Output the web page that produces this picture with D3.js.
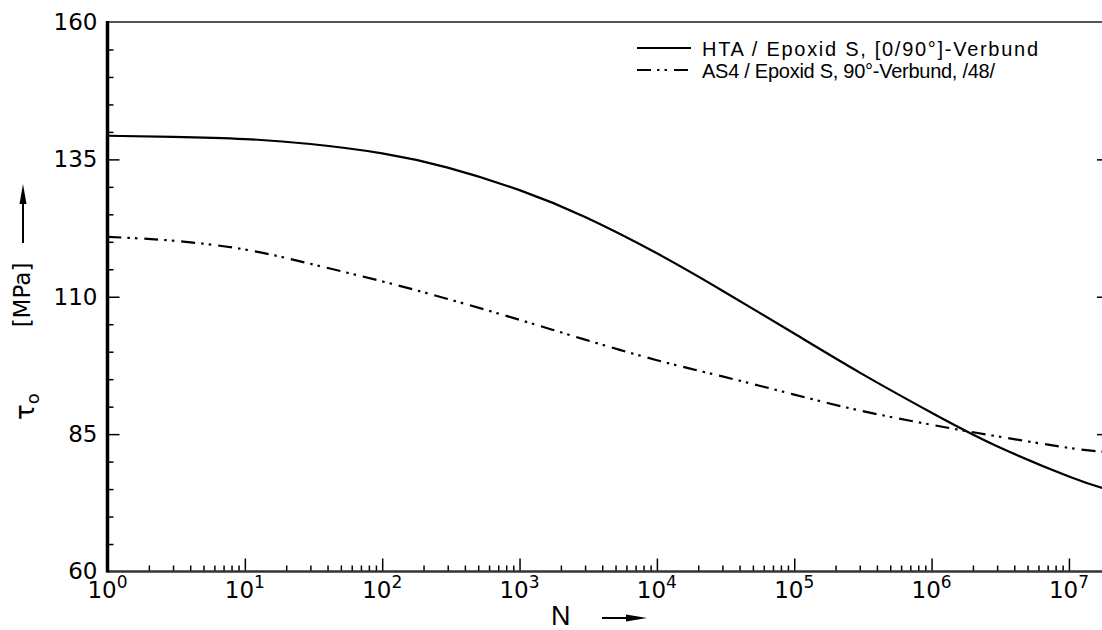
<!DOCTYPE html>
<html><head><meta charset="utf-8">
<script src="https://cdn.jsdelivr.net/npm/d3@7"></script>
<style>body{margin:0;background:#fff}svg{display:block}</style>
</head><body><svg id="c" width="1102" height="630"></svg>
<script>
const seriesNames = ["HTA / Epoxid S, [0/90°]-Verbund", "AS4 / Epoxid S, 90°-Verbund, /48/"];
const cycles = [1, 3, 10, 30, 100, 300, 1e3, 3e3, 1e4, 3e4, 1e5, 3e5, 1e6, 3e6, 1e7, 1.8e7];
const htaValues = [139.3, 139.1, 138.7, 137.8, 136.1, 133.5, 129.4, 124.5, 117.9, 111.1, 103.3, 96.2, 88.9, 82.8, 77.3, 75.1];
const as4Values = [120.9, 120.2, 118.6, 116.0, 112.8, 109.6, 105.8, 102.2, 98.45, 95.5, 92.2, 89.3, 86.7, 84.6, 82.5, 81.8];
const yTickValues = [60, 85, 110, 135, 160];
const xTickExponents = [0, 1, 2, 3, 4, 5, 6, 7];

const svg = d3.select("#c");
const x = d3.scaleLog().domain([1, 1.8e7]).range([107.5, 1104]);
const y = d3.scaleLinear().domain([60, 160]).range([571.5, 22]);

const xMajor = xTickExponents.map(e => Math.pow(10, e));
const xMinor = [];
xTickExponents.forEach(e => { for (let k = 2; k <= 9; k++) { const v = k * Math.pow(10, e); if (v <= 1.8e7) xMinor.push(v); } });
const yMinor = d3.range(60, 160.1, 5).filter(v => !yTickValues.includes(v));

const axG = svg.append("g");
function clean(g){ g.select(".domain").remove(); g.selectAll("line").attr("stroke","#000").attr("stroke-width",1.5); }

// bottom ticks (inward)
axG.append("g").attr("transform",`translate(0,${y(60)})`)
  .call(d3.axisBottom(x).tickValues(xMinor).tickSize(-6).tickFormat("")).call(clean);
axG.append("g").attr("transform",`translate(0,${y(60)})`)
  .call(d3.axisBottom(x).tickValues(xMajor).tickSize(-13).tickFormat("")).call(clean);
// left ticks (inward)
axG.append("g").attr("transform",`translate(${x(1)},0)`)
  .call(d3.axisLeft(y).tickValues(yMinor).tickSize(-6).tickFormat("")).call(clean);
const yl = axG.append("g").attr("transform",`translate(${x(1)},0)`)
  .call(d3.axisLeft(y).tickValues(yTickValues).tickSize(-12).tickPadding(10).tickFormat(d3.format("d"))).call(clean);
yl.selectAll("text").attr("font-family","DejaVu Sans").attr("font-size",23).attr("fill","#000");
yl.selectAll(".tick").filter(d => d === 160 || d === 60).select("line").remove();
// right ticks
axG.append("g").attr("transform",`translate(${x(1.8e7)},0)`)
  .call(d3.axisRight(y).tickValues(yTickValues.filter(v=>v!==60 && v!==160)).tickSize(-7).tickFormat("")).call(clean);

// frame
axG.append("line").attr("x1",x(1)).attr("x2",x(1.8e7)).attr("y1",y(160)).attr("y2",y(160)).attr("stroke","#555").attr("stroke-width",2);
axG.append("line").attr("x1",x(1)).attr("x2",x(1.8e7)).attr("y1",y(60)).attr("y2",y(60)).attr("stroke","#333").attr("stroke-width",2.5);
axG.append("line").attr("x1",x(1)).attr("x2",x(1)).attr("y1",y(160)-1).attr("y2",y(60)+1).attr("stroke","#000").attr("stroke-width",3.5);
axG.append("line").attr("x1",x(1.8e7)).attr("x2",x(1.8e7)).attr("y1",y(160)).attr("y2",y(60)).attr("stroke","#000").attr("stroke-width",2);

// x tick labels 10^n
const xl = svg.append("g").selectAll("text").data(xTickExponents).join("text")
  .attr("x", e => x(Math.pow(10, e))).attr("y", 598)
  .attr("text-anchor","middle").attr("font-family","DejaVu Sans").attr("font-size",23).attr("fill","#000");
xl.append("tspan").text("10");
xl.append("tspan").attr("dy",-10).attr("font-size",17).text(e => e);

// curves
const line = d3.line().x(d => x(d[0])).y(d => y(d[1])).curve(d3.curveNatural);
const dashDot = "14,6,2.5,5,2.5,7";
svg.append("path").datum(cycles.map((c,i)=>[c,htaValues[i]])).attr("d",line)
  .attr("fill","none").attr("stroke","#000").attr("stroke-width",2.2);
svg.append("path").datum(cycles.map((c,i)=>[c,as4Values[i]])).attr("d",line)
  .attr("fill","none").attr("stroke","#000").attr("stroke-width",2.2).attr("stroke-dasharray",dashDot);

// legend
const leg = svg.append("g");
const legStyles = [null, dashDot];
const legWidths = [336, 293];
seriesNames.forEach((name,i) => {
  const ly = 48 + i*22;
  leg.append("line").attr("x1",637).attr("x2",691).attr("y1",ly).attr("y2",ly)
    .attr("stroke","#000").attr("stroke-width",2).attr("stroke-dasharray",legStyles[i]);
  leg.append("text").attr("x",702).attr("y",ly+8).attr("font-family","Liberation Sans").attr("font-size",20)
    .attr("textLength",legWidths[i]).attr("lengthAdjust","spacing").attr("fill","#000").text(name);
});

// x axis title
svg.append("text").attr("x",551).attr("y",625).attr("font-family","Liberation Sans").attr("font-size",27).attr("fill","#000").text("N");
svg.append("line").attr("x1",602).attr("x2",630).attr("y1",618).attr("y2",618).attr("stroke","#000").attr("stroke-width",2);
svg.append("path").attr("d","M626,614.5 L647,618 L626,621.5 Z").attr("fill","#000");

// y axis title
const yt = svg.append("text").attr("transform","translate(34,420) rotate(-90)")
  .attr("font-family","DejaVu Sans").attr("font-size",26).attr("fill","#000");
yt.append("tspan").text("τ");
yt.append("tspan").attr("dy",5).attr("font-size",18).text("o");
svg.append("text").attr("transform","translate(30,295) rotate(-90)").attr("text-anchor","middle")
  .attr("font-family","DejaVu Sans").attr("font-size",23).attr("fill","#000").text("[MPa]");
svg.append("line").attr("x1",23).attr("x2",23).attr("y1",243).attr("y2",200).attr("stroke","#000").attr("stroke-width",2);
svg.append("path").attr("d","M19.5,204 L23,184 L26.5,204 Z").attr("fill","#000");
</script></body></html>
